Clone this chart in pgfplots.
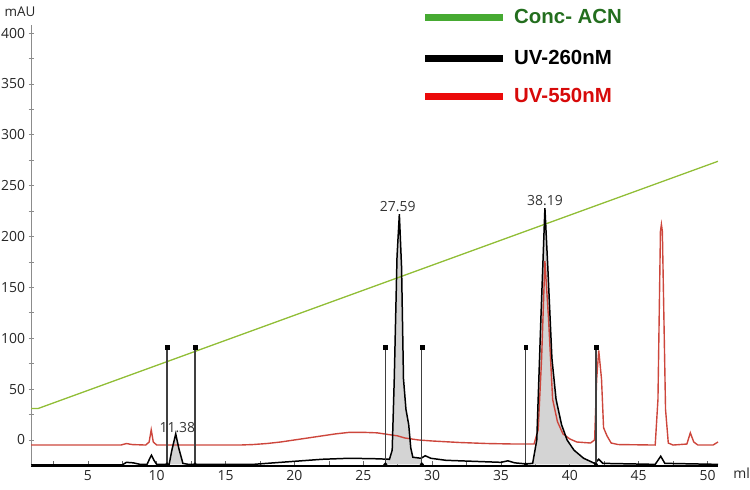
\documentclass[border=0pt]{standalone}
\usepackage{pgfplots}
\pgfplotsset{compat=1.18}
\usepackage{pgfplotstable}
\usepgfplotslibrary{fillbetween}
\usepackage{fontspec}
\setmainfont{Open Sans}
\newfontfamily\legfont{Liberation Sans}
\definecolor{acn}{RGB}{145,190,55}
\definecolor{uvred}{RGB}{205,70,60}
\definecolor{peakfill}{RGB}{212,212,212}
\definecolor{leggreen}{RGB}{70,170,50}
\definecolor{leggreentext}{RGB}{35,110,30}
\definecolor{legred}{RGB}{235,10,10}
\definecolor{legredtext}{RGB}{215,10,10}

\pgfplotstableread{
x y
0.87 31
1.4 31
50.76 274
}\acntab

\pgfplotstableread{
x y
0.87 -5
7.4 -5
7.8 -3.5
8.2 -4.5
9.2 -5
9.45 -2
9.6 10
9.75 -2
10.0 -5
16 -5
17 -4.5
18 -3.5
19 -2
20 0
21 2
22 4
23 6
24 7.5
25 7.5
26 7
27 5
27.5 4
28 2
29 0
30 -1
32 -2.5
34 -3.5
36 -4
37.4 -4
37.7 10
37.95 80
38.19 176
38.45 120
38.75 40
39.1 18
39.5 6
40 1
40.5 -2
41.5 -3
41.8 0
41.95 60
42.1 88
42.3 60
42.45 12
42.7 4
43 -3
43.5 -4.5
46.2 -5
46.4 40
46.58 205
46.65 212
46.72 205
46.95 30
47.15 -3
47.5 -5
48.5 -4
48.75 7
49.0 -2
49.3 -5
50.4 -5
50.76 -2
}\redtab

\pgfplotstableread{
x y
0.87 -24.5
7.5 -24.5
7.8 -22
8.3 -22.5
8.8 -24
9.3 -24
9.5 -18
9.62 -15
9.8 -20
10.0 -24
10.9 -24
11.1 -10
11.38 6
11.6 -8
11.9 -23
12.3 -24
17 -24
18 -23
19 -22
20 -21
21 -20
22 -19
24 -18
26 -18.5
26.9 -19
27.1 -10
27.25 60
27.45 180
27.62 222
27.78 170
27.92 60
28.1 30
28.3 15
28.45 -8
28.6 -17
29.2 -18
29.5 -15.5
29.9 -18
31 -20
33 -21
35 -22
35.5 -20.5
36 -22.5
36.8 -23.5
37.3 -23
37.6 0
37.9 120
38.19 228
38.4 170
38.7 80
39.0 40
39.4 15
39.8 0
40.3 -10
41.0 -18
41.8 -23
42.1 -19
42.4 -23
46.2 -24
46.6 -16
46.9 -23
50.76 -24
}\blacktab

\begin{document}
\begin{tikzpicture}
\begin{axis}[
  at={(31bp,24bp)}, anchor=south west,
  scale only axis, width=687bp, height=441bp,
  xmin=0.87, xmax=50.76, ymin=-25.6, ymax=408,
  set layers,
  axis lines=left,
  x axis line style={-, line width=1.6pt, black},
  y axis line style={-, line width=0.9pt, black!45},
  xtick={5,10,...,50},
  minor xtick={2.5,7.5,...,47.5},
  ytick={0,50,...,400},
  minor ytick={25,75,...,375},
  x tick style={black!60, line width=0.7pt},
  y tick style={black!45, line width=0.7pt},
  xtick align=inside, ytick align=center,
  major tick length=5bp, minor tick length=5bp,
  tick label style={font=\fontsize{14}{16}\selectfont, text=black!85},
  /pgf/number format/assume math mode=true,
  xticklabel style={yshift=-1bp},
  yticklabel style={xshift=0bp},
  clip=false,
]
\addplot[acn, line width=1.3pt] table {\acntab};
\addplot[uvred, line width=1.4pt] table {\redtab};
\addplot[black, line width=1.5pt, name path=blk] table {\blacktab};
\addplot[draw=none, name path=base] coordinates {(0.87,-24) (50.76,-24)};
\addplot[peakfill] fill between[of=blk and base, soft clip={domain=10.75:12.78}];
\addplot[peakfill] fill between[of=blk and base, soft clip={domain=26.6:29.25}];
\addplot[peakfill] fill between[of=blk and base, soft clip={domain=36.8:41.9}];
\addplot[black!75, line width=1.2pt] coordinates {(10.75,-24) (10.75,91)};
\addplot[black!75, line width=1.2pt] coordinates {(12.78,-24) (12.78,91)};
\addplot[black!75, line width=1.2pt] coordinates {(26.6,-24) (26.6,91)};
\addplot[black!75, line width=1.2pt] coordinates {(29.25,-24) (29.25,91)};
\addplot[black!75, line width=1.2pt] coordinates {(36.8,-24) (36.8,91)};
\addplot[black!75, line width=1.2pt] coordinates {(41.9,-24) (41.9,91)};
\addplot[only marks, mark=square*, mark size=1.9bp, black] coordinates {
(10.75,91) (12.78,91) (26.6,91) (29.25,91) (36.8,91) (41.9,91)};
\addplot[only marks, mark=*, mark size=1.8bp, black] coordinates {
(10.75,-24) (12.78,-24) (26.6,-24) (29.25,-24) (36.8,-24) (41.9,-24)};
\node[anchor=south, inner sep=1bp, text=black!80, font=\fontsize{14}{16}\selectfont] at (axis cs:11.5,6) {11.38};
\node[anchor=south, inner sep=1bp, text=black!80, font=\fontsize{14}{16}\selectfont] at (axis cs:27.5,223) {27.59};
\node[anchor=south, inner sep=1bp, text=black!80, font=\fontsize{14}{16}\selectfont] at (axis cs:38.2,229) {38.19};
\end{axis}
\node[font=\fontsize{13.5}{15}\selectfont, text=black!85] at (20bp,478bp) {mAU};
\node[anchor=east, inner sep=0pt, font=\fontsize{14}{16}\selectfont, text=black!85] at (750bp,17bp) {ml};
\draw[line width=7bp, leggreen] (425bp,472bp) -- (503bp,472bp);
\draw[line width=7bp, black] (425bp,431bp) -- (503bp,431bp);
\draw[line width=7bp, legred] (425bp,393bp) -- (503bp,393bp);
\node[anchor=west, inner sep=0pt, font=\legfont\bfseries\fontsize{20.5}{24}\selectfont, text=leggreentext] at (514bp,474bp) {Conc- ACN};
\node[anchor=west, inner sep=0pt, font=\legfont\bfseries\fontsize{20.5}{24}\selectfont, text=black] at (514bp,433bp) {UV-260nM};
\node[anchor=west, inner sep=0pt, font=\legfont\bfseries\fontsize{20.5}{24}\selectfont, text=legredtext] at (514bp,395bp) {UV-550nM};
\pgfresetboundingbox
\path[use as bounding box] (0,0) rectangle (750bp,490bp);
\end{tikzpicture}
\end{document}
